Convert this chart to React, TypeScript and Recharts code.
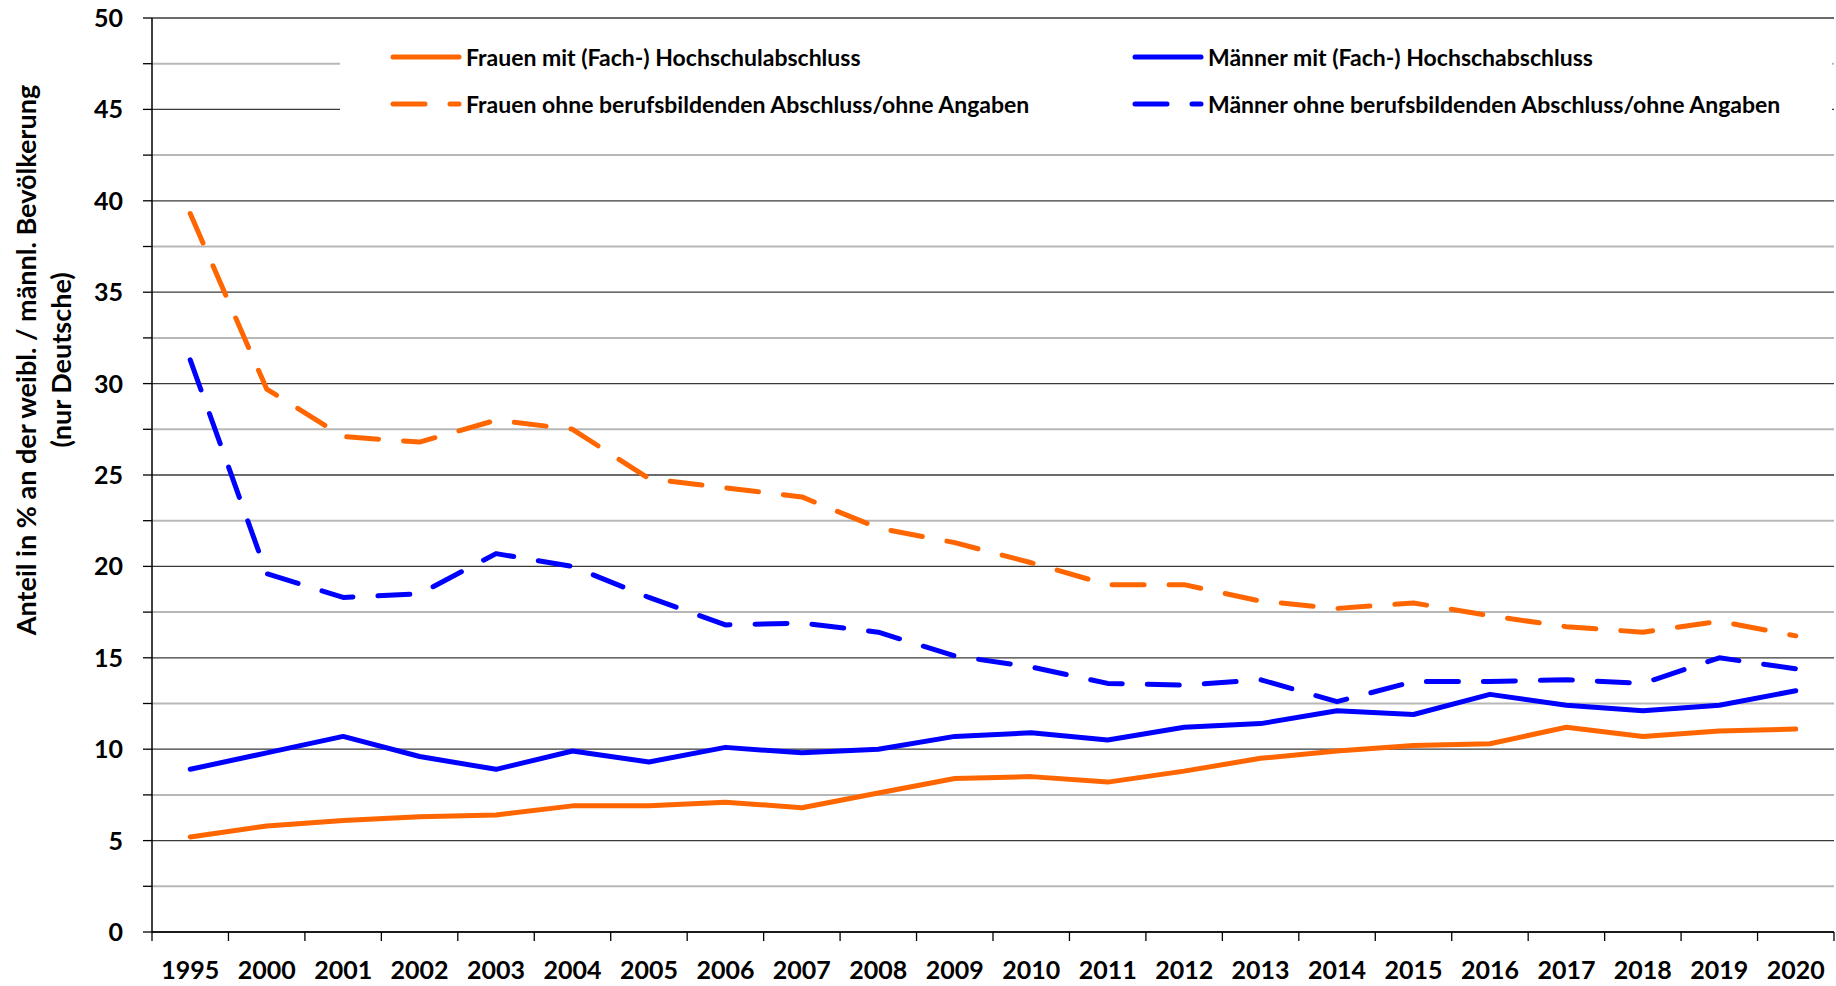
import React from "react";
import { LineChart, Line, XAxis, YAxis, CartesianGrid, Legend } from "recharts";

const YEARS = [
  "1995", "2000", "2001", "2002", "2003", "2004", "2005", "2006", "2007", "2008", "2009",
  "2010", "2011", "2012", "2013", "2014", "2015", "2016", "2017", "2018", "2019", "2020",
];

const FRAUEN_MIT = [5.2, 5.8, 6.1, 6.3, 6.4, 6.9, 6.9, 7.1, 6.8, 7.6, 8.4, 8.5, 8.2, 8.8, 9.5, 9.9, 10.2, 10.3, 11.2, 10.7, 11.0, 11.1];
const MAENNER_MIT = [8.9, 9.8, 10.7, 9.6, 8.9, 9.9, 9.3, 10.1, 9.8, 10.0, 10.7, 10.9, 10.5, 11.2, 11.4, 12.1, 11.9, 13.0, 12.4, 12.1, 12.4, 13.2];
const FRAUEN_OHNE = [39.3, 29.7, 27.1, 26.8, 28.0, 27.5, 24.8, 24.3, 23.8, 22.1, 21.3, 20.2, 19.0, 19.0, 18.1, 17.7, 18.0, 17.3, 16.7, 16.4, 17.0, 16.2];
const MAENNER_OHNE = [31.3, 19.6, 18.3, 18.5, 20.7, 20.0, 18.3, 16.8, 16.9, 16.4, 15.1, 14.5, 13.6, 13.5, 13.8, 12.6, 13.7, 13.7, 13.8, 13.6, 15.0, 14.4];

const Y_TICKS = [0, 2.5, 5, 7.5, 10, 12.5, 15, 17.5, 20, 22.5, 25, 27.5, 30, 32.5, 35, 37.5, 40, 42.5, 45, 47.5, 50];
// ticks at category centers (labels) and at category boundaries (tick marks)
const X_TICKS: number[] = [];
for (let i = 0; i <= YEARS.length * 2; i++) X_TICKS.push(i / 2 - 0.5);

const NAME_FRAUEN_MIT = "Frauen mit (Fach-) Hochschulabschluss";
const NAME_MAENNER_MIT = "Männer mit (Fach-) Hochschabschluss";
const NAME_FRAUEN_OHNE = "Frauen ohne berufsbildenden Abschluss/ohne Angaben";
const NAME_MAENNER_OHNE = "Männer ohne berufsbildenden Abschluss/ohne Angaben";
// legend grid: rows top to bottom, columns left to right
const LEGEND_ORDER = [NAME_FRAUEN_MIT, NAME_MAENNER_MIT, NAME_FRAUEN_OHNE, NAME_MAENNER_OHNE];

const ORANGE = "#ff6600";
const BLUE = "#0000ff";
const DASH = "32 25";
const FONT = "Lato, 'Open Sans', sans-serif";

const data = YEARS.map((year, i) => ({
  i,
  year,
  frauenMit: FRAUEN_MIT[i],
  maennerMit: MAENNER_MIT[i],
  frauenOhne: FRAUEN_OHNE[i],
  maennerOhne: MAENNER_OHNE[i],
}));

function YTick(props: any) {
  const { x, y, payload } = props;
  if (payload.value % 5 !== 0) return null;
  return (
    <text x={x} y={y} dy="0.36em" textAnchor="end" fontFamily={FONT} fontWeight={700} fontSize={25} fill="#000">
      {payload.value}
    </text>
  );
}

function XTick(props: any) {
  const { x, y, payload } = props;
  const v = payload.value;
  if (!Number.isInteger(v)) {
    return <line x1={x} y1={y} x2={x} y2={y + 9} stroke="#000" strokeWidth={1.3} />;
  }
  return (
    <text x={x} y={y + 29} dy="0.71em" textAnchor="middle" fontFamily={FONT} fontWeight={700} fontSize={25} fill="#000">
      {YEARS[v]}
    </text>
  );
}

function YTitle() {
  return (
    <g fontFamily={FONT} fontWeight={700} fontSize={27} fill="#000">
      <text x={25} y={360} transform="rotate(-90 25 360)" textAnchor="middle" dominantBaseline="central">
        Anteil in % an der weibl. / männl. Bevölkerung
      </text>
      <text x={60} y={360} transform="rotate(-90 60 360)" textAnchor="middle" dominantBaseline="central">
        (nur Deutsche)
      </text>
    </g>
  );
}

function gridLine(props: any) {
  const { x1, y1, x2, y2, index } = props;
  const major = index % 2 === 0;
  return (
    <line
      key={`g-${index}`}
      x1={x1}
      y1={y1}
      x2={x2}
      y2={y2}
      stroke={major ? "#3a3a3a" : "#b8b8b8"}
      strokeWidth={major ? 1.3 : 2}
    />
  );
}

function renderLegend(props: any) {
  const { payload } = props;
  return (
    <div style={{ position: "relative", width: "100%", height: "100%" }}>
      {payload.map((entry: any) => {
        const idx = LEGEND_ORDER.indexOf(entry.value);
        const col = idx % 2;
        const row = Math.floor(idx / 2);
        const dash = entry.payload?.strokeDasharray;
        return (
          <div
            key={entry.value}
            style={{
              position: "absolute",
              left: col === 0 ? 50 : 792,
              top: row === 0 ? 21 : 68,
              height: 28,
              display: "flex",
              alignItems: "center",
              whiteSpace: "nowrap",
            }}
          >
            <svg width={72} height={10} style={{ display: "block" }}>
              <line
                x1={3}
                y1={5}
                x2={69}
                y2={5}
                stroke={entry.color}
                strokeWidth={5}
                strokeLinecap="round"
                strokeDasharray={dash}
              />
            </svg>
            <span style={{ marginLeft: 4, fontFamily: FONT, fontWeight: 700, fontSize: 23, color: "#000" }}>
              {entry.value}
            </span>
          </div>
        );
      })}
    </div>
  );
}

export default function App() {
  return (
    <div style={{ position: "absolute", left: 0, top: 0, width: 1836, height: 986, background: "#fff" }}>
      <LineChart width={1836} height={986} data={data} margin={{ top: 18, right: 2, bottom: 0, left: 0 }}>
        <CartesianGrid vertical={false} horizontal={gridLine} />
        <XAxis
          dataKey="i"
          type="number"
          domain={[-0.5, YEARS.length - 0.5]}
          ticks={X_TICKS}
          interval={0}
          height={54}
          tickLine={false}
          tickSize={0}
          tickMargin={0}
          axisLine={{ stroke: "#000", strokeWidth: 1.5 }}
          tick={<XTick />}
        />
        <YAxis
          type="number"
          domain={[0, 50]}
          ticks={Y_TICKS}
          interval={0}
          width={152}
          tickSize={9}
          tickMargin={20}
          tickLine={{ stroke: "#000", strokeWidth: 1.3 }}
          axisLine={{ stroke: "#000", strokeWidth: 1.5 }}
          tick={<YTick />}
          label={{ content: <YTitle /> }}
        />
        <Legend
          layout="horizontal"
          verticalAlign="middle"
          align="center"
          wrapperStyle={{ position: "absolute", left: 340, top: 22, width: 1492, height: 128, background: "#fff" }}
          content={renderLegend}
        />
        <Line
          type="linear"
          dataKey="frauenMit"
          name={NAME_FRAUEN_MIT}
          stroke={ORANGE}
          strokeWidth={5}
          strokeLinecap="round"
          strokeLinejoin="round"
          dot={false}
          activeDot={false}
          isAnimationActive={false}
        />
        <Line
          type="linear"
          dataKey="maennerMit"
          name={NAME_MAENNER_MIT}
          stroke={BLUE}
          strokeWidth={5}
          strokeLinecap="round"
          strokeLinejoin="round"
          dot={false}
          activeDot={false}
          isAnimationActive={false}
        />
        <Line
          type="linear"
          dataKey="frauenOhne"
          name={NAME_FRAUEN_OHNE}
          stroke={ORANGE}
          strokeWidth={5}
          strokeDasharray={DASH}
          strokeLinecap="round"
          strokeLinejoin="round"
          dot={false}
          activeDot={false}
          isAnimationActive={false}
        />
        <Line
          type="linear"
          dataKey="maennerOhne"
          name={NAME_MAENNER_OHNE}
          stroke={BLUE}
          strokeWidth={5}
          strokeDasharray={DASH}
          strokeLinecap="round"
          strokeLinejoin="round"
          dot={false}
          activeDot={false}
          isAnimationActive={false}
        />
      </LineChart>
    </div>
  );
}
